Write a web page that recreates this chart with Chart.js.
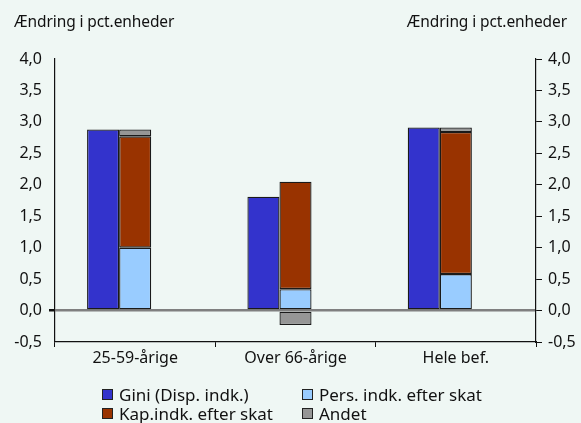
<!DOCTYPE html>
<html>
<head>
<meta charset="utf-8">
<script src="https://cdn.jsdelivr.net/npm/chart.js@4.4.1/dist/chart.umd.min.js"></script>
<style>
  html, body { margin: 0; padding: 0; background: #eff7f4; }
  #wrap { position: relative; width: 581px; height: 423px; overflow: hidden; font-family: "Noto Sans", sans-serif; color: #111; }
  canvas { position: absolute; left: 0; top: 0; }
  .ttl { position: absolute; top: 10px; font-size: 15.5px; white-space: nowrap; letter-spacing: -0.1px; }
  .leg { position: absolute; font-size: 17px; white-space: nowrap; line-height: 19px; }
  .leg span.box { display: inline-block; width: 9px; height: 9px; border: 1px solid #222; margin-right: 6px; vertical-align: 1px; }
</style>
</head>
<body>
<div id="wrap">
  <canvas id="c" width="581" height="423"></canvas>
  <div class="ttl" style="left:14px;">Ændring i pct.enheder</div>
  <div class="ttl" style="right:14px;">Ændring i pct.enheder</div>
  <div id="legend"></div>
</div>
<script>
const categories = ["25-59-årige", "Over 66-årige", "Hele bef."];
const giniValues = [2.88, 1.81, 2.91];
const persValues = [1.00, 0.34, 0.58];
const kapValues  = [1.77, 1.71, 2.26];
const andetValues = [0.11, -0.23, 0.07];
const seriesNames = ["Gini (Disp. indk.)", "Pers. indk. efter skat", "Kap.indk. efter skat", "Andet"];
const seriesColors = ["#3333cc", "#99ccff", "#993300", "#969696"];
const yMin = -0.5, yMax = 4.0, yStep = 0.5;

const border = "#1a1a1a";
const ds = (label, data, color, stack) => ({
  label, data, stack, backgroundColor: color, borderColor: border, borderWidth: 1.3,
  borderSkipped: false, barPercentage: 1, categoryPercentage: 0.6
});

const fmt = v => v.toFixed(1).replace('.', ',');
const tickFont = { family: "Noto Sans", size: 16 };

new Chart(document.getElementById('c'), {
  type: 'bar',
  data: {
    labels: categories,
    datasets: [
      ds(seriesNames[0], giniValues, seriesColors[0], 'a'),
      ds(seriesNames[1], persValues, seriesColors[1], 'b'),
      ds(seriesNames[2], kapValues, seriesColors[2], 'b'),
      ds(seriesNames[3], andetValues, seriesColors[3], 'b'),
      ds('', categories.map(() => null), 'rgba(0,0,0,0)', 'c')
    ]
  },
  options: {
    responsive: false,
    animation: false,
    layout: { padding: { top: 59, bottom: 51, left: 0, right: 0 } },
    plugins: { legend: { display: false }, tooltip: { enabled: false } },
    scales: {
      x: {
        stacked: true,
        offset: true,
        grid: { offset: true, drawOnChartArea: false, drawTicks: true, tickLength: 5, tickColor: '#111' },
        border: { display: true, color: '#111', width: 1.2 },
        ticks: { font: tickFont, color: '#111', padding: 2 },
        afterFit: s => { s.height = 30; }
      },
      y: {
        position: 'left',
        stacked: true,
        min: yMin, max: yMax,
        grid: {
          drawOnChartArea: true,
          color: c => (c.tick && c.tick.value === 0) ? '#7f7f7f' : 'rgba(0,0,0,0)',
          lineWidth: c => (c.tick && c.tick.value === 0) ? 2.5 : 0,
          drawTicks: true, tickLength: 6, tickColor: '#111'
        },
        border: { display: true, color: '#111', width: 1.2 },
        ticks: { stepSize: yStep, font: tickFont, color: '#111', padding: 7, callback: v => fmt(v) },
        afterFit: s => { s.width = 55; }
      },
      y2: {
        position: 'right',
        min: yMin, max: yMax,
        grid: { drawOnChartArea: false, drawTicks: true, tickLength: 6, tickColor: '#111' },
        border: { display: true, color: '#111', width: 1.2 },
        ticks: { stepSize: yStep, font: tickFont, color: '#111', padding: 6, callback: v => fmt(v) },
        afterFit: s => { s.width = 45; }
      }
    }
  }
});

// HTML legend (2 columns x 2 rows)
const legendPos = [
  { left: 102, top: 385 }, { left: 302, top: 385 },
  { left: 102, top: 404 }, { left: 302, top: 404 }
];
const legendOrder = [0, 1, 2, 3];
const legEl = document.getElementById('legend');
legendOrder.forEach((idx, i) => {
  const d = document.createElement('div');
  d.className = 'leg';
  d.style.left = legendPos[i].left + 'px';
  d.style.top = legendPos[i].top + 'px';
  const b = document.createElement('span');
  b.className = 'box';
  b.style.background = seriesColors[idx];
  d.appendChild(b);
  d.appendChild(document.createTextNode(seriesNames[idx]));
  legEl.appendChild(d);
});
</script>
</body>
</html>
